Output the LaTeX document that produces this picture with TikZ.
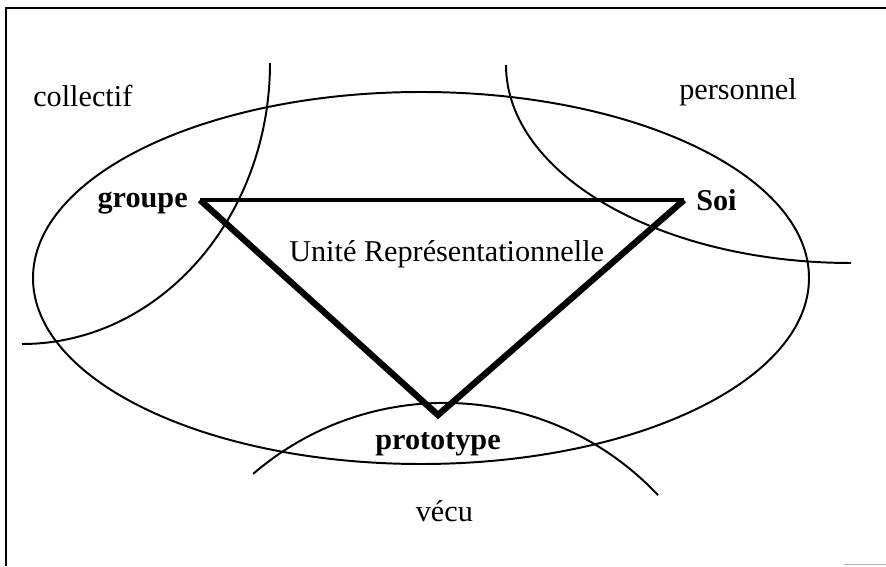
\documentclass[tikz,border=0pt]{standalone}
\usepackage{fontspec}
\setmainfont{Liberation Serif}
\usetikzlibrary{positioning}
\begin{document}
\begin{tikzpicture}[
        curve/.style={line width=1.4pt},
        side/.style={line width=4.5pt},
        word/.style={font=\fontsize{21.5}{26}\selectfont,inner sep=0pt},
        bword/.style={inner sep=0pt,font=\fontsize{21.5}{26}\selectfont\bfseries}]
        \useasboundingbox (0,0) rectangle (22.15,14.15);
        \draw[line width=1.4pt] (0.15,0)--(0.15,13.95)--(22.15,13.95);
        \draw[gray!60,line width=.8pt] (21.1,.03)--(22.15,.03);
        % oval and the three regions
        \draw[curve] (10.525,7.2) ellipse[x radius=9.7,y radius=4.65];
        \draw[curve] (6.75,12.575) arc(0:-90:6.2 and 7.025);
        \draw[curve] (12.65,12.525) arc(180:270:8.625 and 4.95);
        \draw[curve] (6.328,2.303) arc(130.7:43.3:7.335);
        % triangle
        \coordinate (g) at (5,9.15);
        \coordinate (s) at (17.1,9.15);
        \coordinate (p) at (10.95,3.775);
        \draw[side,line width=3.4pt] (g)--(s);
        \draw[side] (s)--(p)--(g);
        \node[bword,left=0.3cm of g,yshift=-0.08cm] (groupe) {groupe};
        \node[bword,right=0.3cm of s] (soi) {Soi};
        \node[bword,below=0.42cm of p] (proto) {prototype};
        \node[word,anchor=base west] (unite) at (7.225,7.6) {Unité Représentationnelle};
        \node[word,anchor=base west] (coll) at (0.825,11.475) {collectif};
        \node[word,anchor=base west] (pers) at (16.975,11.65) {personnel};
        \node[word,anchor=base] (vecu) at (11.11,1.1) {vécu};
\end{tikzpicture}
\end{document}
